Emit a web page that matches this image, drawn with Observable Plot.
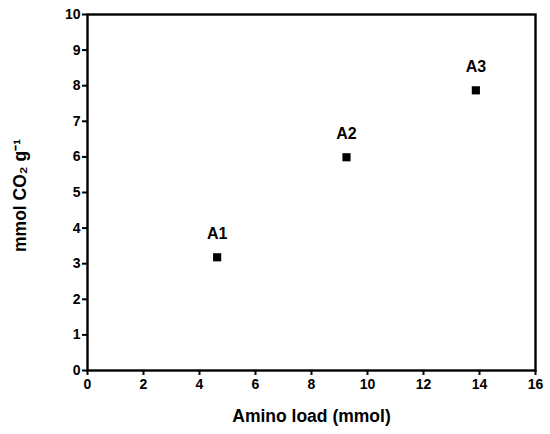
<!DOCTYPE html>
<html>
<head>
<meta charset="utf-8">
<script src="https://cdn.jsdelivr.net/npm/d3@7"></script>
<script src="https://cdn.jsdelivr.net/npm/@observablehq/plot@0.6"></script>
<style>
  html, body { margin: 0; padding: 0; background: #fff; overflow: hidden; }
  #chart svg { display: block; }
</style>
</head>
<body>
<div id="chart"></div>
<script>
const samples = ["A1", "A2", "A3"];
const aminoLoad = [4.63, 9.25, 13.87];
const co2Uptake = [3.18, 5.99, 7.87];
const xTicks = [0, 2, 4, 6, 8, 10, 12, 14, 16];
const yTicks = [0, 1, 2, 3, 4, 5, 6, 7, 8, 9, 10];
const xTitle = "Amino load (mmol)";
const yTitle = "mmol CO\u2082 g\u207B\u00B9";

const data = samples.map((s, i) => ({ name: s, x: aminoLoad[i], y: co2Uptake[i] }));
const font = "Liberation Sans, Arial, sans-serif";

const chart = Plot.plot({
  width: 550,
  height: 434,
  marginLeft: 87,
  marginRight: 15,
  marginTop: 14,
  marginBottom: 64,
  style: { fontFamily: font, background: "#fff" },
  x: { domain: [0, 16] },
  y: { domain: [0, 10] },
  marks: [
    Plot.frame({ stroke: "black", strokeWidth: 2.4 }),
    Plot.axisX({ ticks: xTicks, tickSize: 5, tickPadding: 4, strokeWidth: 2, fontSize: 14, fontWeight: "bold", label: null }),
    Plot.axisY({ ticks: yTicks, tickSize: 5, tickPadding: 2, strokeWidth: 2, fontSize: 14, fontWeight: "bold", label: null }),
    Plot.dot(data, { x: "x", y: "y", symbol: "square", r: 4.6, fill: "black", stroke: "none" }),
    Plot.text(data, { x: "x", y: "y", text: "name", dy: -23, fontSize: 16, fontWeight: "bold", fill: "black" }),
    Plot.text([xTitle], { text: (d) => d, frameAnchor: "bottom", textAnchor: "middle", lineAnchor: "middle", dy: 46, fontSize: 17.5, fontWeight: "bold", fill: "black" }),
    Plot.text([yTitle], { text: (d) => d, frameAnchor: "left", textAnchor: "middle", lineAnchor: "middle", rotate: -90, dx: -67, dy: 3, fontSize: 17.5, fontWeight: "bold", fill: "black" })
  ]
});

document.getElementById("chart").appendChild(chart);
</script>
</body>
</html>
